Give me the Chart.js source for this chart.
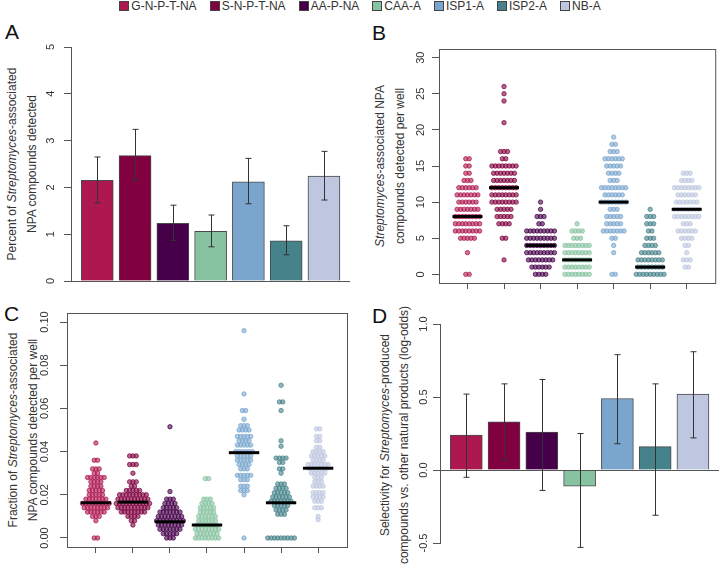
<!DOCTYPE html>
<html lang="en">
<head>
<meta charset="UTF-8">
<title>Streptomyces-associated NPA compounds</title>
<script src="https://cdn.jsdelivr.net/npm/chart.js"></script>
<style>
  body { margin: 0; background: #fff; font-family: "Liberation Sans", Arial, sans-serif; color: #333; }
  #page { position: relative; width: 720px; height: 574px; overflow: hidden; }
  .panel { position: absolute; }
  .letter { position: absolute; font-size: 21px; color: #111; line-height: 1; }
  .ytitle { position: absolute; font-size: 12px; white-space: nowrap; transform: translate(-50%, -50%) rotate(-90deg); color: #333; }
  #legend { position: absolute; top: -1px; left: 0; width: 720px; display: flex; justify-content: center; gap: 13px; font-size: 12px; color: #333; }
  .item { display: flex; align-items: center; }
  .sw { width: 8px; height: 8px; border: 1px solid #444; margin-right: 2px; }
</style>
</head>
<body>
<div id="page">
  <div id="legend"></div>

  <div class="letter" style="left:5px;top:21px">A</div>
  <div class="letter" style="left:372px;top:22px">B</div>
  <div class="letter" style="left:4px;top:303px">C</div>
  <div class="letter" style="left:372px;top:305px">D</div>

  <div class="ytitle" style="left:12px;top:164px">Percent of <i>Streptomyces</i>-associated</div>
  <div class="ytitle" style="left:32px;top:164px">NPA compounds detected</div>
  <div class="ytitle" style="left:380px;top:166px"><i>Streptomyces</i>-associated NPA</div>
  <div class="ytitle" style="left:400px;top:166px">compounds detected per well</div>
  <div class="ytitle" style="left:13px;top:430px">Fraction of <i>Streptomyces</i>-associated</div>
  <div class="ytitle" style="left:33px;top:430px">NPA compounds detected per well</div>
  <div class="ytitle" style="left:385px;top:435px">Selectivity for <i>Streptomyces</i>-produced</div>
  <div class="ytitle" style="left:404px;top:435px">compounds vs. other natural products (log-odds)</div>

  <canvas class="panel" id="chartA" width="360" height="270" style="left:0;top:30px"></canvas>
  <canvas class="panel" id="chartB" width="360" height="270" style="left:360px;top:30px"></canvas>
  <canvas class="panel" id="chartC" width="360" height="274" style="left:0;top:300px"></canvas>
  <canvas class="panel" id="chartD" width="360" height="274" style="left:360px;top:300px"></canvas>
</div>

<script>
  // groups and colours
  const groups = ['G-N-P-T-NA', 'S-N-P-T-NA', 'AA-P-NA', 'CAA-A', 'ISP1-A', 'ISP2-A', 'NB-A'];
  const colors = ['#AE1850', '#800040', '#46004A', '#88C3A1', '#7AA6CE', '#46828A', '#BEC7DF'];

  // A: percent detected, with interval
  const pctMean = [2.15, 2.68, 1.23, 1.06, 2.12, 0.86, 2.24];
  const pctLow  = [1.67, 2.15, 0.87, 0.73, 1.65, 0.56, 1.73];
  const pctHigh = [2.65, 3.24, 1.62, 1.41, 2.62, 1.18, 2.77];
  const pctTicks = [0, 1, 2, 3, 4, 5];

  // B: number of wells per compound count (index = count)
  const wellCounts = [
    [2, 0, 0, 1, 0, 5, 8, 8, 8, 7, 6, 7, 6, 3, 2, 2, 2],
    [0, 0, 1, 0, 0, 2, 0, 4, 5, 5, 8, 8, 8, 7, 7, 8, 2, 3, 0, 0, 0, 1, 0, 0, 1, 1, 1],
    [4, 6, 8, 9, 9, 9, 9, 2, 3, 1, 1],
    [8, 8, 8, 8, 8, 3, 4, 1],
    [2, 0, 0, 1, 1, 2, 7, 5, 5, 3, 8, 6, 8, 3, 4, 5, 6, 3, 2, 1],
    [9, 8, 8, 6, 4, 3, 2, 3, 3, 1],
    [0, 2, 3, 1, 2, 4, 6, 3, 8, 8, 7, 6, 8, 4, 3]
  ];
  const wellMedians = [8, 12, 4, 2, 10, 1, 9];
  const countTicks = [0, 5, 10, 15, 20, 25, 30];

  // C: fraction per well, [value, number of wells]
  const fracRows = [
    [[0.044, 1], [0.036, 2], [0.032, 3], [0.030, 2], [0.028, 6], [0.026, 4], [0.024, 4], [0.022, 5], [0.020, 5],
     [0.018, 7], [0.016, 9], [0.014, 8], [0.012, 6], [0.010, 3], [0.008, 1], [0.000, 2]],
    [[0.038, 3], [0.034, 3], [0.030, 1], [0.026, 3], [0.024, 2], [0.022, 5], [0.020, 9], [0.018, 10], [0.016, 11],
     [0.014, 10], [0.012, 8], [0.010, 4], [0.008, 2], [0.006, 1]],
    [[0.0515, 1], [0.0215, 1], [0.018, 3], [0.016, 4], [0.014, 5], [0.012, 7], [0.010, 8], [0.008, 9], [0.006, 8],
     [0.004, 7], [0.002, 5], [0.000, 3]],
    [[0.0275, 2], [0.018, 3], [0.016, 4], [0.014, 5], [0.012, 5], [0.010, 6], [0.008, 6], [0.006, 7], [0.004, 8],
     [0.002, 7], [0.000, 8]],
    [[0.096, 1], [0.0667, 1], [0.059, 2], [0.055, 1], [0.052, 3], [0.050, 4], [0.047, 5], [0.045, 4], [0.043, 5],
     [0.040, 6], [0.038, 5], [0.036, 5], [0.034, 4], [0.032, 3], [0.029, 5], [0.027, 3], [0.024, 3], [0.022, 3],
     [0.020, 1], [0.000, 1]],
    [[0.0707, 1], [0.063, 2], [0.059, 1], [0.045, 1], [0.0425, 1], [0.037, 4], [0.035, 2], [0.032, 2], [0.030, 1],
     [0.025, 3], [0.023, 4], [0.021, 5], [0.019, 6], [0.017, 7], [0.015, 5], [0.013, 4], [0.011, 3], [0.000, 9]],
    [[0.0505, 2], [0.047, 2], [0.045, 2], [0.042, 2], [0.040, 4], [0.038, 5], [0.036, 4], [0.034, 7], [0.032, 6],
     [0.030, 5], [0.028, 3], [0.026, 3], [0.024, 4], [0.021, 4], [0.019, 4], [0.017, 3], [0.014, 3], [0.010, 1],
     [0.0085, 1]]
  ];
  const fracMedians = [0.0163, 0.0166, 0.0075, 0.006, 0.0395, 0.0163, 0.0323];
  const fracTicks = [0, 0.02, 0.04, 0.06, 0.08, 0.10];

  // D: selectivity (log-odds), with interval
  const selMean = [0.24, 0.33, 0.26, -0.11, 0.49, 0.16, 0.52];
  const selLow  = [-0.05, 0.07, -0.14, -0.53, 0.18, -0.31, 0.22];
  const selHigh = [0.52, 0.59, 0.62, 0.25, 0.79, 0.59, 0.81];
  const selTicks = [-0.5, 0, 0.5, 1.0];

  const positions = groups.map((g, i) => i + 1);

  // legend
  const legend = document.getElementById('legend');
  groups.forEach((g, i) => {
    const it = document.createElement('div');
    it.className = 'item';
    it.innerHTML = '<span class="sw" style="background:' + colors[i] + '"></span>' + g;
    legend.appendChild(it);
  });

  function rgba(hex, a) {
    const n = parseInt(hex.slice(1), 16);
    return 'rgba(' + (n >> 16) + ',' + ((n >> 8) & 255) + ',' + (n & 255) + ',' + a + ')';
  }

  // rows of equal values laid side by side
  function swarm(rows, center, step) {
    const pts = [];
    rows.forEach(([v, n]) => {
      for (let k = 0; k < n; k++) pts.push({ x: center + (k - (n - 1) / 2) * step, y: v });
    });
    return pts;
  }

  // R-like decorations: rotated tick labels, box, zero line, error bars, medians
  const decor = {
    id: 'decor',
    afterDatasetsDraw(chart, args, o) {
      const ctx = chart.ctx, a = chart.chartArea, xs = chart.scales.x, ys = chart.scales.y;
      ctx.save();
      ctx.strokeStyle = '#555';
      ctx.lineWidth = 1;
      if (o.box) ctx.strokeRect(a.left + 0.5, a.top + 0.5, a.right - a.left, a.bottom - a.top);
      if (o.zero) {
        const y0 = Math.round(ys.getPixelForValue(0)) + 0.5;
        ctx.beginPath(); ctx.moveTo(a.left - 1, y0); ctx.lineTo(a.right, y0); ctx.stroke();
      }
      if (o.low) {
        ctx.strokeStyle = '#333';
        o.low.forEach((lo, i) => {
          const x = Math.round(xs.getPixelForValue(i + 1)) + 0.5;
          const y1 = ys.getPixelForValue(lo), y2 = ys.getPixelForValue(o.high[i]);
          ctx.beginPath();
          ctx.moveTo(x, y1); ctx.lineTo(x, y2);
          ctx.moveTo(x - 3, y1); ctx.lineTo(x + 3, y1);
          ctx.moveTo(x - 3, y2); ctx.lineTo(x + 3, y2);
          ctx.stroke();
        });
      }
      if (o.medians) {
        ctx.strokeStyle = '#000';
        ctx.lineWidth = 3;
        o.medians.forEach((m, i) => {
          const y = ys.getPixelForValue(m);
          ctx.beginPath();
          ctx.moveTo(xs.getPixelForValue(i + 1 - 0.41), y);
          ctx.lineTo(xs.getPixelForValue(i + 1 + 0.41), y);
          ctx.stroke();
        });
      }
      ctx.fillStyle = '#333';
      ctx.font = '11px "Liberation Sans", Arial, sans-serif';
      ctx.textAlign = 'center';
      ctx.textBaseline = 'alphabetic';
      ys.ticks.forEach(t => {
        ctx.save();
        ctx.translate(a.left - o.gap, ys.getPixelForValue(t.value));
        ctx.rotate(-Math.PI / 2);
        ctx.fillText(t.value.toFixed(o.dec), 0, 0);
        ctx.restore();
      });
      ctx.restore();
    }
  };

  function yAxis(min, max, ticks, width) {
    return {
      type: 'linear', min: min, max: max,
      afterBuildTicks: s => { s.ticks = ticks.map(v => ({ value: v })); },
      afterFit: s => { s.width = width; },
      ticks: { display: false },
      grid: { drawOnChartArea: false, tickLength: 7, color: '#555' },
      border: { color: '#555' }
    };
  }

  function xAxis(min, max, shown, height) {
    return {
      type: 'linear', min: min, max: max, offset: false, display: shown,
      afterBuildTicks: s => { s.ticks = positions.map(v => ({ value: v })); },
      afterFit: s => { s.height = height; },
      ticks: { display: false },
      grid: { drawOnChartArea: false, tickLength: 6, color: '#555' },
      border: { display: false }
    };
  }

  const common = { responsive: false, animation: false, events: [] };

  // A
  new Chart(document.getElementById('chartA'), {
    type: 'bar',
    data: { datasets: [{
      data: pctMean.map((v, i) => ({ x: positions[i], y: v })),
      backgroundColor: colors, borderColor: '#4a4a4a', borderWidth: 1, barThickness: 32
    }] },
    options: Object.assign({}, common, {
      layout: { padding: { left: 0, right: 10, top: 17, bottom: 19 } },
      scales: { x: xAxis(0.304, 7.69, false, 0), y: yAxis(0, 5, pctTicks, 71) },
      plugins: { legend: { display: false }, tooltip: { enabled: false },
        decor: { zero: true, low: pctLow, high: pctHigh, gap: 17, dec: 0 } }
    }),
    plugins: [decor]
  });

  // B
  new Chart(document.getElementById('chartB'), {
    type: 'scatter',
    data: { datasets: wellCounts.map((c, i) => ({
      data: swarm(c.map((n, v) => [v, n]).filter(r => r[1] > 0), positions[i], 0.095),
      pointRadius: 2.2, borderWidth: 0.8,
      backgroundColor: rgba(colors[i], 0.6), borderColor: rgba(colors[i], 0.95)
    })) },
    options: Object.assign({}, common, {
      layout: { padding: { left: 0, right: 2, top: 19, bottom: 0 } },
      scales: { x: xAxis(0.22, 7.78, true, 17), y: yAxis(-1.2, 31.2, countTicks, 79) },
      plugins: { legend: { display: false }, tooltip: { enabled: false },
        decor: { box: true, medians: wellMedians, gap: 15, dec: 0 } }
    }),
    plugins: [decor]
  });

  // C
  new Chart(document.getElementById('chartC'), {
    type: 'scatter',
    data: { datasets: fracRows.map((r, i) => ({
      data: swarm(r, positions[i], 0.09),
      pointRadius: 2.2, borderWidth: 0.8,
      backgroundColor: rgba(colors[i], 0.6), borderColor: rgba(colors[i], 0.95)
    })) },
    options: Object.assign({}, common, {
      layout: { padding: { left: 0, right: 13, top: 13, bottom: 0 } },
      scales: { x: xAxis(0.22, 7.78, true, 27), y: yAxis(-0.00417, 0.10417, fracTicks, 67) },
      plugins: { legend: { display: false }, tooltip: { enabled: false },
        decor: { box: true, medians: fracMedians, gap: 19, dec: 2 } }
    }),
    plugins: [decor]
  });

  // D
  new Chart(document.getElementById('chartD'), {
    type: 'bar',
    data: { datasets: [{
      data: selMean.map((v, i) => ({ x: positions[i], y: v })),
      backgroundColor: colors, borderColor: '#4a4a4a', borderWidth: 1, barThickness: 32
    }] },
    options: Object.assign({}, common, {
      layout: { padding: { left: 0, right: 1, top: 24, bottom: 31 } },
      scales: { x: xAxis(0.304, 7.69, false, 0), y: yAxis(-0.5, 1.0, selTicks, 80) },
      plugins: { legend: { display: false }, tooltip: { enabled: false },
        decor: { zero: true, low: selLow, high: selHigh, gap: 13, dec: 1 } }
    }),
    plugins: [decor]
  });
</script>
</body>
</html>
